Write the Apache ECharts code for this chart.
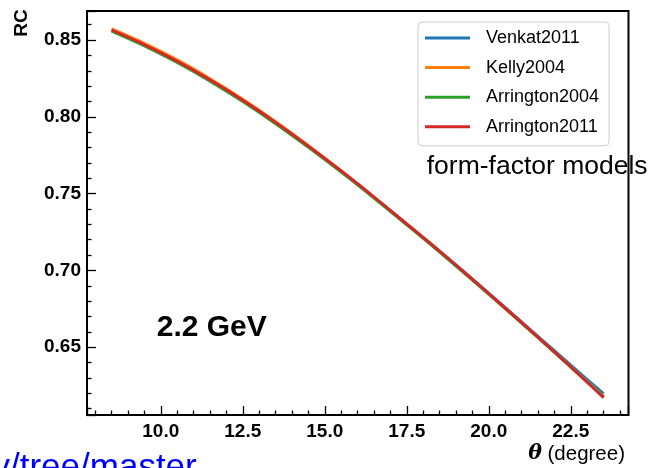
<!DOCTYPE html>
<html>
<head>
<meta charset="utf-8">
<script src="https://cdn.jsdelivr.net/npm/echarts@6/dist/echarts.min.js"></script>
<style>
html,body{margin:0;padding:0;background:#fff;}
#chart{width:648px;height:468px;}
</style>
</head>
<body>
<div id="chart"></div>
<script>
// Scattering angle (degrees)
const theta = [8.5, 9.5, 10.5, 11.5, 12.5, 13.5, 14.5, 15.5, 16.5, 17.5, 18.5, 19.5, 20.5, 21.5, 22.5, 23.5];
// Radiative correction RC for each form-factor model
const venkat2011 = [0.8565, 0.8470, 0.8362, 0.8241, 0.8108, 0.7964, 0.7810, 0.7648, 0.7478, 0.7303, 0.7127, 0.6945, 0.6760, 0.6572, 0.6384, 0.6198];
const kelly2004 = [0.8573, 0.8479, 0.8371, 0.8249, 0.8115, 0.7969, 0.7813, 0.7649, 0.7478, 0.7302, 0.7125, 0.6942, 0.6755, 0.6565, 0.6373, 0.6180];
const arrington2004 = [0.8558, 0.8462, 0.8353, 0.8232, 0.8099, 0.7955, 0.7801, 0.7640, 0.7471, 0.7296, 0.7119, 0.6937, 0.6751, 0.6562, 0.6370, 0.6178];
const arrington2011 = [0.8565, 0.8470, 0.8362, 0.8241, 0.8108, 0.7964, 0.7810, 0.7648, 0.7478, 0.7302, 0.7125, 0.6942, 0.6755, 0.6565, 0.6372, 0.6172];
const seriesNames = ['Venkat2011', 'Kelly2004', 'Arrington2004', 'Arrington2011'];
const seriesColors = ['#1f77b4', '#ff7f0e', '#2ca02c', '#d62728'];
const xRange = [7.75, 24.26];
const yRange = [0.6059, 0.8689];
const xStep = 2.5;
const yStep = 0.05;

const allData = [venkat2011, kelly2004, arrington2004, arrington2011];
function pairs(arr) { return theta.map((t, i) => [t, arr[i]]); }
function onStep(v, step) { return Math.abs(v / step - Math.round(v / step)) < 1e-6; }

const chart = echarts.init(document.getElementById('chart'), null, {renderer: 'canvas'});
const tickFont = {fontFamily: 'Liberation Sans', fontWeight: 'bold', fontSize: 19, color: '#000'};

chart.setOption({
  animation: false,
  backgroundColor: '#fff',
  grid: {left: 87, top: 11, right: 19.5, bottom: 53, show: true, borderColor: '#000', borderWidth: 2, backgroundColor: 'transparent', z: 10},
  xAxis: {
    type: 'value', min: xRange[0], max: xRange[1], minInterval: xStep, maxInterval: xStep, splitNumber: 7,
    axisLine: {show: false},
    splitLine: {show: false},
    axisTick: {show: true, inside: true, length: 9, lineStyle: {color: '#000', width: 1.3}},
    minorTick: {show: true, splitNumber: 5, length: 4.5, lineStyle: {color: '#000', width: 1.3}},
    axisLabel: Object.assign({margin: 7, formatter: v => onStep(v, xStep) ? v.toFixed(1) : ''}, tickFont)
  },
  yAxis: {
    type: 'value', min: yRange[0], max: yRange[1], minInterval: yStep, maxInterval: yStep, splitNumber: 5,
    axisLine: {show: false},
    splitLine: {show: false},
    axisTick: {show: true, inside: true, length: 9, lineStyle: {color: '#000', width: 1.3}},
    minorTick: {show: true, splitNumber: 5, length: 4.5, lineStyle: {color: '#000', width: 1.3}},
    axisLabel: Object.assign({margin: 6, formatter: v => onStep(v, yStep) ? v.toFixed(2) : ''}, tickFont)
  },
  legend: {
    orient: 'vertical', left: 418, top: 22,
    data: seriesNames,
    icon: 'rect', itemWidth: 45, itemHeight: 3, itemGap: 11.6,
    padding: [7, 10, 10, 7],
    backgroundColor: 'rgba(255,255,255,0.8)', borderColor: '#cccccc', borderWidth: 1, borderRadius: 4,
    textStyle: {fontFamily: 'Liberation Sans', fontSize: 18, color: '#000', lineHeight: 18, padding: [0, 0, 0, 11]},
    selectedMode: false, z: 20
  },
  series: allData.map((d, i) => ({
    name: seriesNames[i], type: 'line', data: pairs(d), showSymbol: false, symbol: 'none', smooth: 0.3,
    lineStyle: {color: seriesColors[i], width: 2.8}, itemStyle: {color: seriesColors[i]}, z: 2 + i
  })),
  graphic: [
    {type: 'text', x: 22, y: 23, rotation: Math.PI / 2, z: 30,
     style: {text: 'RC', fontFamily: 'Liberation Sans', fontWeight: 'bold', fontSize: 19, fill: '#000', align: 'center', verticalAlign: 'middle'}},
    {type: 'text', x: 426.7, y: 167, z: 30,
     style: {text: 'form-factor models', fontFamily: 'Liberation Sans', fontSize: 26.5, fill: '#000', align: 'left', verticalAlign: 'middle'}},
    {type: 'text', x: 156.7, y: 328, z: 30,
     style: {text: '2.2 GeV', fontFamily: 'Liberation Sans', fontWeight: 'bold', fontSize: 30, fill: '#000', align: 'left', verticalAlign: 'middle'}},
    {type: 'text', x: 625, y: 454, z: 30,
     style: {text: '{t|θ} (degree)', fontFamily: 'Liberation Sans', fontSize: 20.5, fill: '#000', align: 'right', verticalAlign: 'middle',
       rich: {t: {fontFamily: 'DejaVu Serif', fontStyle: 'italic', fontWeight: 'bold', fontSize: 20.5, fill: '#000'}}}},
    {type: 'text', x: -7.5, y: 468, z: 30,
     style: {text: 'y/tree/master', fontFamily: 'Liberation Sans', fontSize: 35, fill: '#0000ff', align: 'left', verticalAlign: 'middle'}}
  ]
});
</script>
</body>
</html>
